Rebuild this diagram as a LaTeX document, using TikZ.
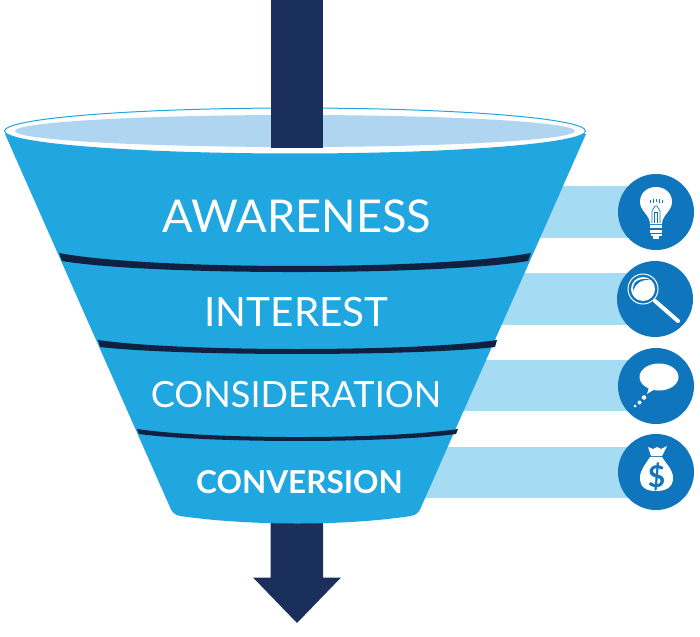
\documentclass[tikz,border=0pt]{standalone}
\usepackage{fontspec}
\usetikzlibrary{shapes.geometric}
\setmainfont{Lato}
\definecolor{funnel}{HTML}{21A7E0}
\definecolor{navy}{HTML}{1B2F5C}
\definecolor{band}{HTML}{0F2040}
\definecolor{inner}{HTML}{B0D5F0}
\definecolor{barc}{HTML}{A5DBF3}
\definecolor{disc}{HTML}{0F75BC}
\tikzset{
  stagebar/.style={fill=barc,draw=none},
  icondisc/.style={circle,fill=disc,draw=none,minimum size=76pt,inner sep=0pt},
  sepline/.style={fill=band,draw=none},
  stagetext/.style={text=white,inner sep=0pt,anchor=center},
  ico/.style={fill=white,draw=none},
}
\begin{document}
\begin{tikzpicture}[x=1pt,y=-1pt]
\useasboundingbox (0,0) rectangle (700,636);
% side bars
\fill[stagebar] (500,186) rectangle (640,238);
\fill[stagebar] (480,273) rectangle (640,325);
\fill[stagebar] (460,360) rectangle (640,411);
\fill[stagebar] (420,447) rectangle (640,498);
% lower arrow
\fill[navy] (270.5,500) -- (323,500) -- (323,577.5) -- (341,577.5) -- (297,623) -- (253,577.5) -- (270.5,577.5) -- cycle;
% funnel body
\fill[funnel] (5,134) -- (169,505) .. controls (171,511) and (174,515) .. (180,516)
  .. controls (250,526) and (345,526) .. (411,516) .. controls (417,515) and (420,511) .. (422,505)
  -- (586,134) -- cycle;
% rim
\node[ellipse,draw=funnel,line width=1pt,fill=white,minimum width=581pt,minimum height=46pt,inner sep=0pt] (rim) at (295,131) {};
\fill[inner] (295,131) ellipse [x radius=280, y radius=16];
% upper arrow
\fill[navy] (270.5,0) rectangle (323,148.5);
% separators
\path[sepline] (59,253) .. controls (150,270.3) and (440,270.3) .. (531,253) -- (528,261)
  .. controls (440,275.7) and (150,275.7) .. (62,261) -- cycle;
\path[sepline] (98,340) .. controls (180,352) and (415,352) .. (497,340) -- (495,347)
  .. controls (415,356.3) and (180,356.3) .. (100,347) -- cycle;
\path[sepline] (137,429) .. controls (210,439.7) and (385,439.7) .. (458,429) -- (456,434)
  .. controls (385,443.3) and (210,443.3) .. (139,434) -- cycle;
% labels
\node[stagetext,font=\fontsize{45.2}{45}\selectfont] (l1) at (297,216) {AWARENESS};
\node[stagetext,font=\fontsize{40.4}{40}\selectfont] (l2) at (296.5,312) {INTEREST};
\node[stagetext,font=\fontsize{36.1}{36}\selectfont] (l3) at (296,395) {CONSIDERATION};
\node[stagetext,font=\bfseries\fontsize{31.5}{31}\selectfont] (l4) at (299.5,482) {CONVERSION};
% discs
\node[icondisc] (d1) at (656,212) {};
\node[icondisc] (d2) at (655,299) {};
\node[icondisc] (d3) at (656,386) {};
\node[icondisc] (d4) at (656,472) {};
% bulb
\fill[ico] (650,224) .. controls (650,215) and (640,211) .. (640,202)
  .. controls (640,193) and (647,187) .. (656,187)
  .. controls (665,187) and (672,193) .. (672,202)
  .. controls (672,211) and (662,215) .. (662,224) -- cycle;
\fill[ico] (650,225) rectangle (662,228);
\fill[ico] (650,229.5) rectangle (662,232.5);
\fill[ico] (650.5,234) rectangle (661.5,236);
\fill[ico] (653,236) rectangle (659,239);
\draw[disc,line width=.7pt] (652,223) -- (652,211) -- (655,206) -- (657,206) -- (660,211) -- (660,223);
\draw[disc,line width=.7pt] (654.5,223) -- (654.5,212) -- (657.5,212) -- (657.5,223);
\draw[disc,line width=.7pt] (650,203) -- (650,200) (653,203) -- (653,199.5) (656,202) -- (656,199) (659,203) -- (659,199.5) (662,203) -- (662,200);
% magnifier
\draw[white,line width=1pt] (643,289) circle (15);
\fill[ico] (643,289) circle (12);
\fill[disc] (633.5,291) .. controls (631,281) and (641,277) .. (651,280) .. controls (642,279) and (635,283) .. (633.5,291) -- cycle;
\draw[white,line width=4pt,line cap=round] (655,301) -- (678,321);
% speech bubble
\fill[ico] (659,377) ellipse [x radius=19.5, y radius=13.5];
\fill[ico] (650,384) -- (647,394) -- (658,387) -- cycle;
\fill[ico] (644,397.5) circle (2.3);
\fill[ico] (639.5,402.5) circle (2);
\fill[ico] (635,406) circle (1.5);
% money bag
\fill[ico] (650,457) .. controls (645,465) and (640,470) .. (640,478)
  .. controls (640,488) and (647,491) .. (656,491)
  .. controls (665,491) and (673,488) .. (673,478)
  .. controls (673,470) and (667,465) .. (662,457) -- cycle;
\fill[ico] (651,456) -- (648,447) -- (653,449) -- (657,447) -- (661,449) -- (667,446) -- (662,456) -- cycle;
\node[text=disc,inner sep=0pt,font=\bfseries\fontsize{30}{30}\selectfont] (dollar) at (656.5,477) {\$};
\end{tikzpicture}
\end{document}
